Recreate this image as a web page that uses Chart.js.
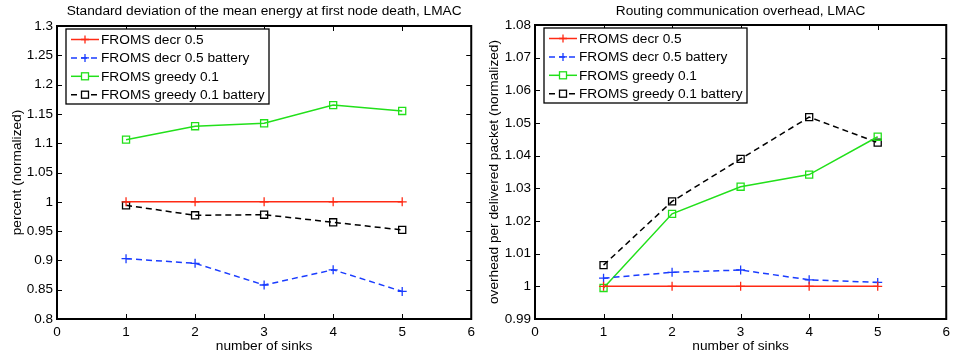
<!DOCTYPE html>
<html>
<head>
<meta charset="utf-8">
<script src="https://cdn.jsdelivr.net/npm/chart.js@4.4.1/dist/chart.umd.min.js"></script>
<style>
  html, body { margin: 0; padding: 0; background: #fff; }
  #wrap { position: relative; width: 955px; height: 356px; overflow: hidden; }
  canvas { position: absolute; top: 0; }
</style>
</head>
<body>
<div id="wrap">
  <canvas id="c1" width="480" height="356" style="left:0px"></canvas>
  <canvas id="c2" width="475" height="356" style="left:480px"></canvas>
</div>
<script>
// ---------- data ----------
const sinks = [1, 2, 3, 4, 5];
const seriesNames = ['FROMS decr 0.5', 'FROMS decr 0.5 battery', 'FROMS greedy 0.1', 'FROMS greedy 0.1 battery'];

// left chart: standard deviation of mean energy at first node death
const energyDecr        = [1.0, 1.0, 1.0, 1.0, 1.0];
const energyDecrBatt    = [0.903, 0.895, 0.858, 0.884, 0.847];
const energyGreedy      = [1.106, 1.129, 1.134, 1.165, 1.155];
const energyGreedyBatt  = [0.994, 0.977, 0.978, 0.965, 0.952];

// right chart: routing communication overhead
const ovhDecr       = [1.0, 1.0, 1.0, 1.0, 1.0];
const ovhDecrBatt   = [1.0025, 1.0043, 1.005, 1.002, 1.0012];
const ovhGreedy     = [0.9995, 1.0222, 1.0305, 1.0342, 1.0458];
const ovhGreedyBatt = [1.0065, 1.026, 1.039, 1.0518, 1.044];

const xTicks = ['0', '1', '2', '3', '4', '5', '6'];
const yTicksLeft  = ['0.8', '0.85', '0.9', '0.95', '1', '1.05', '1.1', '1.15', '1.2', '1.25', '1.3'];
const yTicksRight = ['0.99', '1', '1.01', '1.02', '1.03', '1.04', '1.05', '1.06', '1.07', '1.08'];

// ---------- styles ----------
const FONT = '"Liberation Sans", Arial, Helvetica, sans-serif';
const styles = [
  { color: '#ff2a14', dash: [], point: 'cross', radius: 4.5 },
  { color: '#1a3cff', dash: [6, 4], point: 'cross', radius: 4.5 },
  { color: '#22e01a', dash: [], point: 'rect', radius: 5 },
  { color: '#000000', dash: [6, 4], point: 'rect', radius: 5 }
];

function makeDatasets(arrs) {
  return arrs.map((vals, i) => ({
    label: seriesNames[i],
    data: sinks.map((x, j) => ({ x: x, y: vals[j] })),
    borderColor: styles[i].color,
    backgroundColor: 'rgba(0,0,0,0)',
    borderWidth: 1.5,
    borderDash: styles[i].dash,
    pointStyle: styles[i].point,
    pointRadius: styles[i].radius,
    pointBorderWidth: 1.3,
    pointBorderColor: styles[i].color,
    pointBackgroundColor: 'rgba(0,0,0,0)',
    tension: 0,
    fill: false
  }));
}

const boxPlugin = {
  id: 'matlabBox',
  beforeDatasetsDraw(chart) {
    const { ctx, chartArea: a, scales } = chart;
    ctx.save();
    ctx.strokeStyle = '#000';
    ctx.lineWidth = 1;
    const tl = 5;
    scales.x.ticks.forEach(t => {
      const px = Math.round(scales.x.getPixelForValue(t.value)) + 0.5;
      ctx.beginPath();
      ctx.moveTo(px, a.bottom); ctx.lineTo(px, a.bottom - tl);
      ctx.moveTo(px, a.top); ctx.lineTo(px, a.top + tl);
      ctx.stroke();
    });
    scales.y.ticks.forEach(t => {
      const py = Math.round(scales.y.getPixelForValue(t.value)) + 0.5;
      ctx.beginPath();
      ctx.moveTo(a.left, py); ctx.lineTo(a.left + tl, py);
      ctx.moveTo(a.right, py); ctx.lineTo(a.right - tl, py);
      ctx.stroke();
    });
    ctx.restore();
  },
  afterDatasetsDraw(chart, args, opts) {
    const { ctx, chartArea: a } = chart;
    ctx.save();
    // title
    ctx.fillStyle = '#000';
    ctx.font = '13.7px ' + FONT;
    ctx.textAlign = 'center';
    ctx.textBaseline = 'middle';
    ctx.fillText(opts.title, (a.left + a.right) / 2, 11);
    // box
    ctx.strokeStyle = '#000';
    ctx.lineWidth = 2;
    ctx.strokeRect(a.left, a.top, a.right - a.left, a.bottom - a.top);
    // legend
    const lx = a.left + 9, ly = a.top + 3, lw = 203, lh = 75;
    ctx.fillStyle = '#fff';
    ctx.fillRect(lx, ly, lw, lh);
    ctx.lineWidth = 1.3;
    ctx.strokeRect(lx, ly, lw, lh);
    ctx.font = '13.7px ' + FONT;
    ctx.textAlign = 'left';
    chart.data.datasets.forEach((ds, i) => {
      const y = ly + 10.5 + i * 18.4;
      const x0 = lx + 5, x1 = lx + 33;
      ctx.save();
      ctx.strokeStyle = ds.borderColor;
      ctx.lineWidth = 1.5;
      ctx.setLineDash(ds.borderDash);
      ctx.beginPath();
      ctx.moveTo(x0, y); ctx.lineTo(x1, y);
      ctx.stroke();
      ctx.setLineDash([]);
      ctx.lineWidth = 1.3;
      const cx = (x0 + x1) / 2;
      if (ds.pointStyle === 'cross') {
        ctx.beginPath();
        ctx.moveTo(cx - 4, y); ctx.lineTo(cx + 4, y);
        ctx.moveTo(cx, y - 4); ctx.lineTo(cx, y + 4);
        ctx.stroke();
      } else {
        ctx.fillStyle = '#fff';
        ctx.fillRect(cx - 3.5, y - 3.5, 7, 7);
        ctx.strokeRect(cx - 3.5, y - 3.5, 7, 7);
      }
      ctx.restore();
      ctx.fillStyle = '#000';
      ctx.textBaseline = 'middle';
      ctx.fillText(ds.label, lx + 35, y + 0.5);
    });
    ctx.restore();
  }
};

function makeChart(id, arrs, yTicks, title, yTitle, pad, yTitlePad) {
  const yVals = yTicks.map(Number);
  const xVals = xTicks.map(Number);
  return new Chart(document.getElementById(id), {
    type: 'line',
    data: { datasets: makeDatasets(arrs) },
    plugins: [boxPlugin],
    options: {
      responsive: false,
      animation: false,
      layout: { padding: pad },
      plugins: {
        legend: { display: false },
        tooltip: { enabled: false },
        matlabBox: { title: title }
      },
      scales: {
        x: {
          type: 'linear',
          min: xVals[0], max: xVals[xVals.length - 1],
          afterBuildTicks: s => { s.ticks = xVals.map(v => ({ value: v })); },
          afterFit: s => { s.height = 37; },
          grid: { display: false, drawTicks: false },
          border: { display: false },
          ticks: {
            padding: 5, color: '#000', maxRotation: 0, autoSkip: false,
            font: { family: FONT, size: 13.5 },
            callback: (v) => xTicks[xVals.indexOf(v)] ?? ''
          },
          title: {
            display: true, text: 'number of sinks', color: '#000',
            font: { family: FONT, size: 13.7 }, padding: { top: 0, bottom: 2 }
          }
        },
        y: {
          type: 'linear',
          min: yVals[0], max: yVals[yVals.length - 1],
          afterBuildTicks: s => { s.ticks = yVals.map(v => ({ value: v })); },
          afterFit: s => { s.width = pad.yWidth; },
          grid: { display: false, drawTicks: false },
          border: { display: false },
          ticks: {
            padding: 4, color: '#000', autoSkip: false,
            font: { family: FONT, size: 13.5 },
            callback: (v) => { const k = yVals.findIndex(t => Math.abs(t - v) < 1e-9); return k >= 0 ? yTicks[k] : ''; }
          },
          title: {
            display: true, text: yTitle, color: '#000',
            font: { family: FONT, size: 13.7 }, padding: { top: yTitlePad, bottom: 0 }
          }
        }
      }
    }
  });
}

makeChart('c1', [energyDecr, energyDecrBatt, energyGreedy, energyGreedyBatt], yTicksLeft,
  'Standard deviation of the mean energy at first node death, LMAC', 'percent (normalized)',
  { top: 26, right: 8, left: 0, bottom: 0, yWidth: 57 }, 9);
makeChart('c2', [ovhDecr, ovhDecrBatt, ovhGreedy, ovhGreedyBatt], yTicksRight,
  'Routing communication overhead, LMAC', 'overhead per delivered packet (normalized)',
  { top: 25, right: 5, left: 0, bottom: 0, yWidth: 55 }, 6);
</script>
</body>
</html>
